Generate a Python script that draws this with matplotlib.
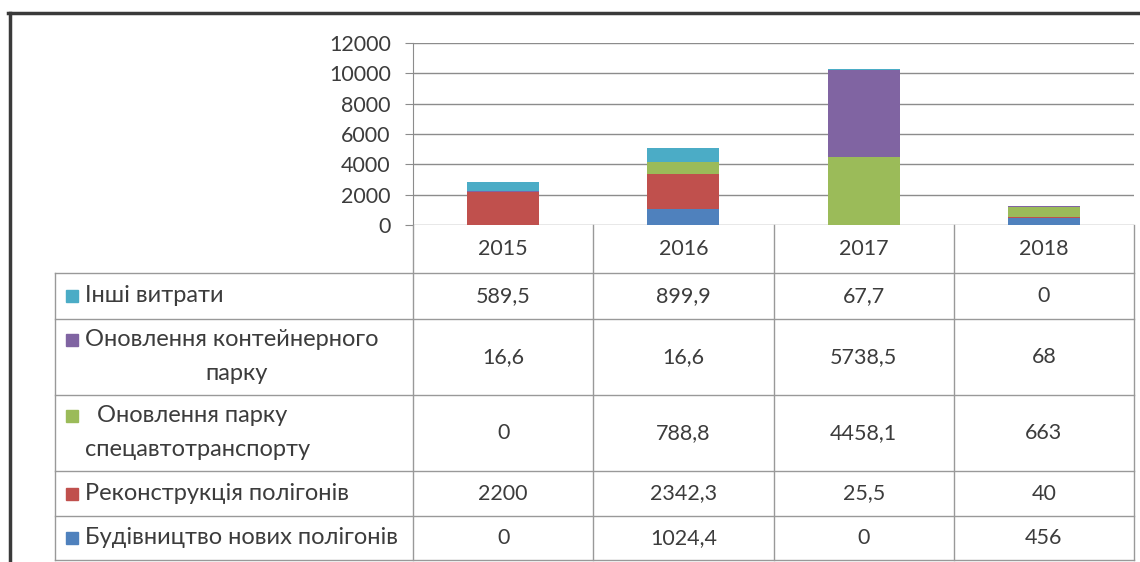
import matplotlib.pyplot as plt
from matplotlib.lines import Line2D
from matplotlib.patches import Rectangle

years = ["2015", "2016", "2017", "2018"]

# stacking order, bottom to top
series_names = [
    "Будівництво нових полігонів",
    "Реконструкція полігонів",
    "Оновлення парку спецавтотранспорту",
    "Оновлення контейнерного парку",
    "Інші витрати",
]
buduvnytstvo = [0, 1024.4, 0, 456]
rekonstruktsiia = [2200, 2342.3, 25.5, 40]
spetsavto = [0, 788.8, 4458.1, 663]
konteinery = [16.6, 16.6, 5738.5, 68]
inshi = [589.5, 899.9, 67.7, 0]
series_values = [buduvnytstvo, rekonstruktsiia, spetsavto, konteinery, inshi]
colors = ["#4F81BD", "#C0504D", "#9BBB59", "#8064A2", "#4BACC6"]

# labels as they appear in the table (may wrap)
row_labels = {
    "Інші витрати": [("Інші витрати", "left")],
    "Оновлення контейнерного парку": [("Оновлення контейнерного", "left"), ("парку", "center")],
    "Оновлення парку спецавтотранспорту": [("  Оновлення парку", "left"), ("спецавтотранспорту", "left")],
    "Реконструкція полігонів": [("Реконструкція полігонів", "left")],
    "Будівництво нових полігонів": [("Будівництво нових полігонів", "left")],
}

W, H = 1140, 562
txt_color = "#3c3c3c"
grid_color = "#8c8c8c"
font = "Lato"
fs = 15.5
fs_label = 17


def fx(x):
    return x / W


def fy(y):
    return 1 - y / H


fig = plt.figure(figsize=(W / 100, H / 100), dpi=100)
fig.patch.set_facecolor("white")

# plot area
x0, x1 = 413, 1134
y_top, y_bot = 43, 225
ax = fig.add_axes([fx(x0), fy(y_bot), fx(x1) - fx(x0), fy(y_top) - fy(y_bot)])

xs = range(len(years))
bottom = [0] * len(years)
for name, vals, c in zip(series_names, series_values, colors):
    ax.bar(xs, vals, width=0.4, bottom=bottom, color=c, zorder=3)
    bottom = [b + v for b, v in zip(bottom, vals)]

ax.set_xlim(-0.5, len(years) - 0.5)
ax.set_ylim(0, 12000)
ax.set_yticks(range(0, 12001, 2000))
ax.set_xticks([])
ax.yaxis.grid(True, color=grid_color, linewidth=1)
ax.set_axisbelow(True)
for s in ["top", "right", "bottom"]:
    ax.spines[s].set_visible(False)
ax.spines["left"].set_color(grid_color)
ax.tick_params(axis="y", length=6, color=grid_color, labelsize=fs,
               labelcolor=txt_color, pad=10)
for lab in ax.get_yticklabels():
    lab.set_fontfamily(font)

# data table below the chart
col_edges = [x0 + i * (x1 - x0) / len(years) for i in range(len(years) + 1)]
row_lines = [273, 319, 395, 471, 516, 560]
table_left = 55
line_kw = dict(color="#999999", linewidth=1)

# header with years
for i, yr in enumerate(years):
    cx = (col_edges[i] + col_edges[i + 1]) / 2
    fig.text(fx(cx), fy((y_bot + row_lines[0]) / 2), yr, ha="center", va="center",
             fontsize=fs, color=txt_color, family=font)

# vertical lines
for i, xe in enumerate(col_edges):
    fig.add_artist(Line2D([fx(xe), fx(xe)], [fy(y_bot), fy(row_lines[-1])], **line_kw))
fig.add_artist(Line2D([fx(table_left), fx(table_left)], [fy(row_lines[0]), fy(row_lines[-1])], **line_kw))
# horizontal lines
for yl in row_lines:
    fig.add_artist(Line2D([fx(table_left), fx(x1)], [fy(yl), fy(yl)], **line_kw))

# rows: top of table is the top of the stack
table_order = list(range(len(series_names)))[::-1]
for r, si in enumerate(table_order):
    name = series_names[si]
    ytop, ybot = row_lines[r], row_lines[r + 1]
    cy = (ytop + ybot) / 2
    lines = row_labels[name]
    n = len(lines)
    line_h = 34
    first_y = cy - (n - 1) * line_h / 2
    # legend key
    fig.add_artist(Rectangle((fx(66), fy(first_y + 6)), fx(12), fy(0) - fy(12),
                             color=colors[si], transform=fig.transFigure))
    for k, (txt, align) in enumerate(lines):
        ly = first_y + k * line_h
        if align == "left":
            fig.text(fx(85), fy(ly), txt, ha="left", va="center",
                     fontsize=fs_label, color=txt_color, family=font)
        else:
            fig.text(fx(237), fy(ly), txt, ha="center", va="center",
                     fontsize=fs_label, color=txt_color, family=font)
    for i, v in enumerate(series_values[si]):
        cx = (col_edges[i] + col_edges[i + 1]) / 2
        fig.text(fx(cx), fy(cy), f"{v:g}".replace(".", ","), ha="center", va="center",
                 fontsize=fs, color=txt_color, family=font)

# dark frame edges at top and left (screenshot border)
fig.add_artist(Line2D([fx(8), fx(W)], [fy(13), fy(13)], color="#3a3a3a", linewidth=2.5))
fig.add_artist(Line2D([fx(10), fx(10)], [fy(13), fy(H)], color="#3a3a3a", linewidth=2.5))

fig.savefig("out.png", dpi=100)
